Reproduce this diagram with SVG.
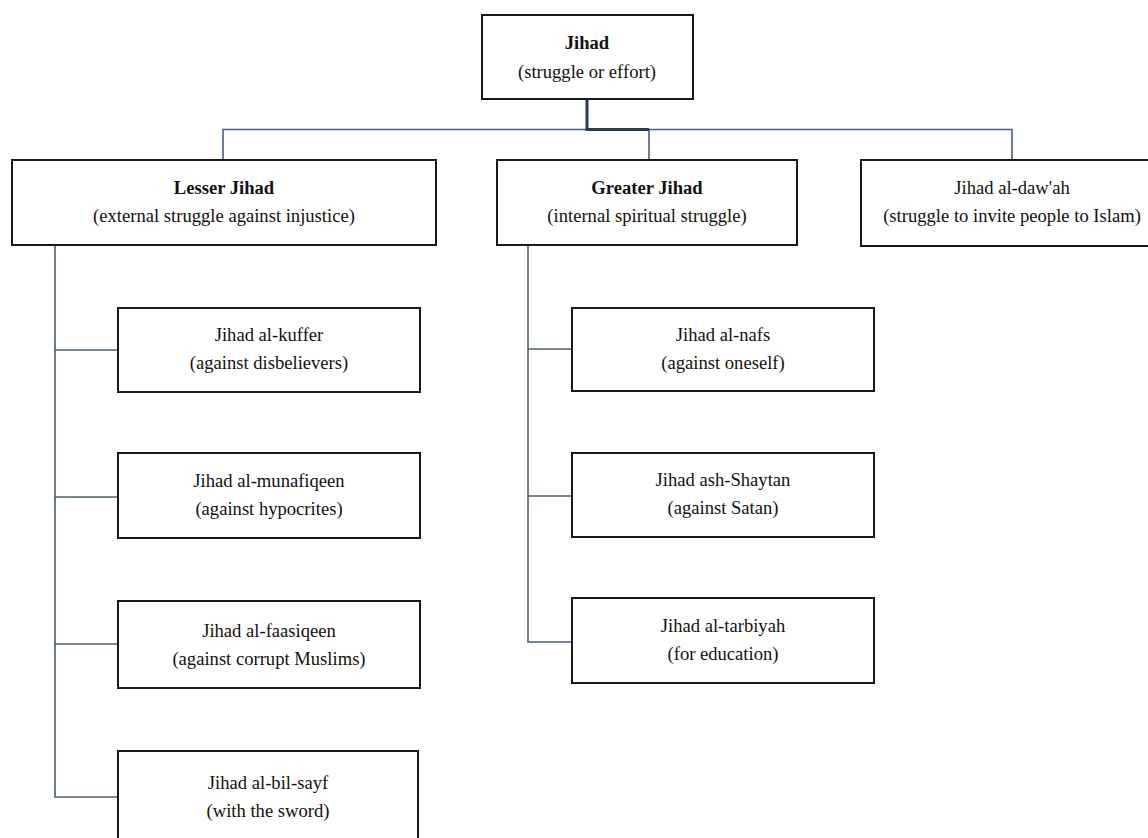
<svg xmlns="http://www.w3.org/2000/svg" width="1148" height="838" viewBox="0 0 1148 838">
<style>
.box{fill:#fff;stroke:#1a1a1a;stroke-width:2}
.t{font-family:"Liberation Serif","DejaVu Serif",serif;font-size:18.6px;fill:#111;text-anchor:middle}
.b{font-weight:bold}
.c{fill:none;stroke:#4a5d78;stroke-width:1.6}
.cm{fill:none;stroke:#2b3a52;stroke-width:3}
</style>
<rect width="1148" height="838" fill="#fff"/>
<g id="connectors">
<path class="c" d="M223 160V129.5H1012V160"/>
<path class="c" d="M649 129.5V160"/>
<path class="cm" d="M587 99V129.5H649"/>
<path class="c" d="M55 245V797H118M55 350H118M55 497H118M55 644H118"/>
<path class="c" d="M528 245V642H572M528 349H572M528 496H572"/>
</g>
<g id="jihad"><rect class="box" x="482" y="15" width="211" height="84"/>
<text class="t b" x="587" y="49">Jihad</text><text class="t" x="587" y="78">(struggle or effort)</text></g>
<g id="lesser"><rect class="box" x="12" y="160" width="424" height="85"/>
<text class="t b" x="224" y="194">Lesser Jihad</text><text class="t" x="224" y="222">(external struggle against injustice)</text></g>
<g id="greater"><rect class="box" x="497" y="160" width="300" height="85"/>
<text class="t b" x="647" y="194">Greater Jihad</text><text class="t" x="647" y="222">(internal spiritual struggle)</text></g>
<g id="dawah"><rect class="box" x="861" y="160" width="300" height="86"/>
<text class="t" x="1012" y="194">Jihad al-daw'ah</text><text class="t" x="1012" y="222">(struggle to invite people to Islam)</text></g>
<g id="kuffer"><rect class="box" x="118" y="308" width="302" height="84"/>
<text class="t" x="269" y="341">Jihad al-kuffer</text><text class="t" x="269" y="369">(against disbelievers)</text></g>
<g id="munafiqeen"><rect class="box" x="118" y="453" width="302" height="85"/>
<text class="t" x="269" y="487">Jihad al-munafiqeen</text><text class="t" x="269" y="515">(against hypocrites)</text></g>
<g id="faasiqeen"><rect class="box" x="118" y="601" width="302" height="87"/>
<text class="t" x="269" y="637">Jihad al-faasiqeen</text><text class="t" x="269" y="665">(against corrupt Muslims)</text></g>
<g id="bilsayf"><rect class="box" x="118" y="751" width="300" height="92"/>
<text class="t" x="268" y="789">Jihad al-bil-sayf</text><text class="t" x="268" y="817">(with the sword)</text></g>
<g id="nafs"><rect class="box" x="572" y="308" width="302" height="83"/>
<text class="t" x="723" y="341">Jihad al-nafs</text><text class="t" x="723" y="369">(against oneself)</text></g>
<g id="shaytan"><rect class="box" x="572" y="453" width="302" height="84"/>
<text class="t" x="723" y="486">Jihad ash-Shaytan</text><text class="t" x="723" y="514">(against Satan)</text></g>
<g id="tarbiyah"><rect class="box" x="572" y="598" width="302" height="85"/>
<text class="t" x="723" y="632">Jihad al-tarbiyah</text><text class="t" x="723" y="660">(for education)</text></g>
</svg>
